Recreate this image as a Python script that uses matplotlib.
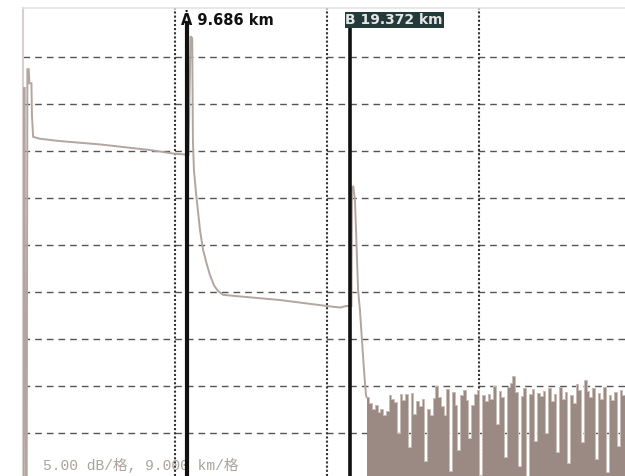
import numpy as np
import matplotlib
matplotlib.use("Agg")
import matplotlib.pyplot as plt

# ---- data (km, dB) ----
trace_km = [0.00, 0.06, 0.10, 0.13, 0.22, 0.26, 0.34, 0.38, 0.50, 0.53, 0.60,
            1.00, 2.20, 4.56, 7.52, 9.00, 9.80, 9.92, 10.02, 10.06, 10.12,
            10.24, 10.48, 10.66, 10.89, 11.07, 11.31, 11.55, 11.84, 12.40,
            15.20, 17.60, 18.50, 18.80, 19.10, 19.45, 19.48, 19.56, 19.66,
            19.78, 19.84, 19.95, 20.07, 20.19, 20.31, 20.35]
trace_db = [0.43, 41.7, 41.7, 0.43, 0.43, 43.7, 43.7, 42.2, 42.2, 38.8, 36.5,
            36.3, 36.05, 35.7, 35.1, 34.7, 34.6, 47.2, 47.0, 36.2, 33.0,
            30.6, 26.6, 24.5, 22.9, 21.8, 20.7, 20.1, 19.7, 19.6,
            19.15, 18.6, 18.4, 18.35, 18.5, 18.5, 31.2, 31.2, 29.6,
            23.4, 20.2, 18.1, 14.9, 11.7, 9.0, 8.8]

noise_start_km = 20.35
noise_db = [8.8, 8.2, 7.6, 8.0, 7.2, 7.6, 6.9, 7.3, 9.0,
            8.6, 8.3, 5.0, 9.2, 8.5, 9.1, 3.5, 9.3, 7.0,
            8.4, 7.9, 8.6, 2.0, 7.6, 6.9, 8.7, 10.0, 8.8,
            7.9, 6.9, 9.7, 1.0, 9.4, 8.0, 3.2, 9.0, 9.6,
            8.5, 4.5, 8.0, 9.1, 9.6, 0.5, 9.0, 8.4, 9.1,
            8.6, 10.0, 6.0, 9.5, 8.8, 2.5, 9.9, 10.3, 11.1,
            9.4, 1.5, 8.9, 9.8, 0.4, 9.2, 9.7, 4.2, 9.3,
            8.9, 9.5, 5.0, 9.8, 8.4, 9.2, 3.0, 9.9, 8.6,
            9.4, 1.8, 9.0, 8.2, 10.2, 9.6, 4.0, 10.6, 9.5,
            8.8, 9.8, 2.2, 9.3, 8.6, 9.9, 0.8, 9.0, 8.5,
            9.4, 3.6, 9.6, 9.0]

marker_a_km = 9.686
marker_b_km = 19.372
label_a = "Ȧ 9.686 km"
label_b = "B 19.372 km"
scale_text = "5.00 dB/格, 9.000 km/格"

x_grid = [9, 18, 27]
y_grid = [5, 10, 15, 20, 25, 30, 35, 40, 45]

XMAX = 35.645
YMIN, YMAX = 0.426, 50.21

fig = plt.figure(figsize=(6.25, 4.76), dpi=100)
ax = fig.add_axes([23 / 625, 0, 1 - 23 / 625, (476 - 8) / 476])
ax.set_xlim(0, XMAX)
ax.set_ylim(YMIN, YMAX)
ax.set_xticks([])
ax.set_yticks([])
for s in ["right", "bottom"]:
    ax.spines[s].set_visible(False)
ax.spines["left"].set_color("#d6cfcc")
ax.spines["left"].set_linewidth(1.5)
ax.spines["top"].set_color("#e4e4e4")
ax.spines["top"].set_linewidth(1.2)

for y in y_grid:
    ax.axhline(y, color="#555555", lw=1.0, dashes=(4.8, 3.6), zorder=1)
for x in x_grid:
    ax.axvline(x, color="#333333", lw=1.5, linestyle=(0, (1, 1)), zorder=1)

ax.plot(trace_km, trace_db, color="#b3a59f", lw=1.4, zorder=3,
        solid_joinstyle="miter")

step = (XMAX - noise_start_km) / len(noise_db)
noise_edges = noise_start_km + step * np.arange(len(noise_db) + 1)
noise_vals = np.append(noise_db, noise_db[-1])
ax.fill_between(noise_edges, YMIN, noise_vals, step="post",
                color="#9a8a83", lw=0, zorder=3)
ax.step(noise_edges, noise_vals, where="post", color="#cbbdb8", lw=0.7,
        zorder=3)

ax.text(1.2, 0.75, scale_text, color="#aaa29e",
        fontsize=10.5, family=["Liberation Mono", "Noto Sans CJK SC"],
        va="bottom", ha="left", zorder=2)

top_line = YMIN + (YMAX - YMIN) * (476 - 23) / 468
ax.plot([marker_a_km, marker_a_km], [YMIN, top_line], color="#111111",
        lw=3.0, zorder=5, solid_capstyle="butt")
ax.plot([marker_b_km, marker_b_km], [YMIN, top_line], color="#111111",
        lw=2.6, zorder=5, solid_capstyle="butt")

ax.text(marker_a_km - 0.35, 48.9, label_a, color="#111111", fontsize=10.5,
        fontweight="bold", va="center", ha="left", zorder=6)
ax.text(marker_b_km - 0.28, 48.95, label_b, color="#e6e6e6", fontsize=10,
        fontweight="bold", va="center", ha="left", zorder=6,
        bbox=dict(boxstyle="square,pad=0.05", fc="#233a3a", ec="none"))

fig.savefig("out.png", dpi=100)
